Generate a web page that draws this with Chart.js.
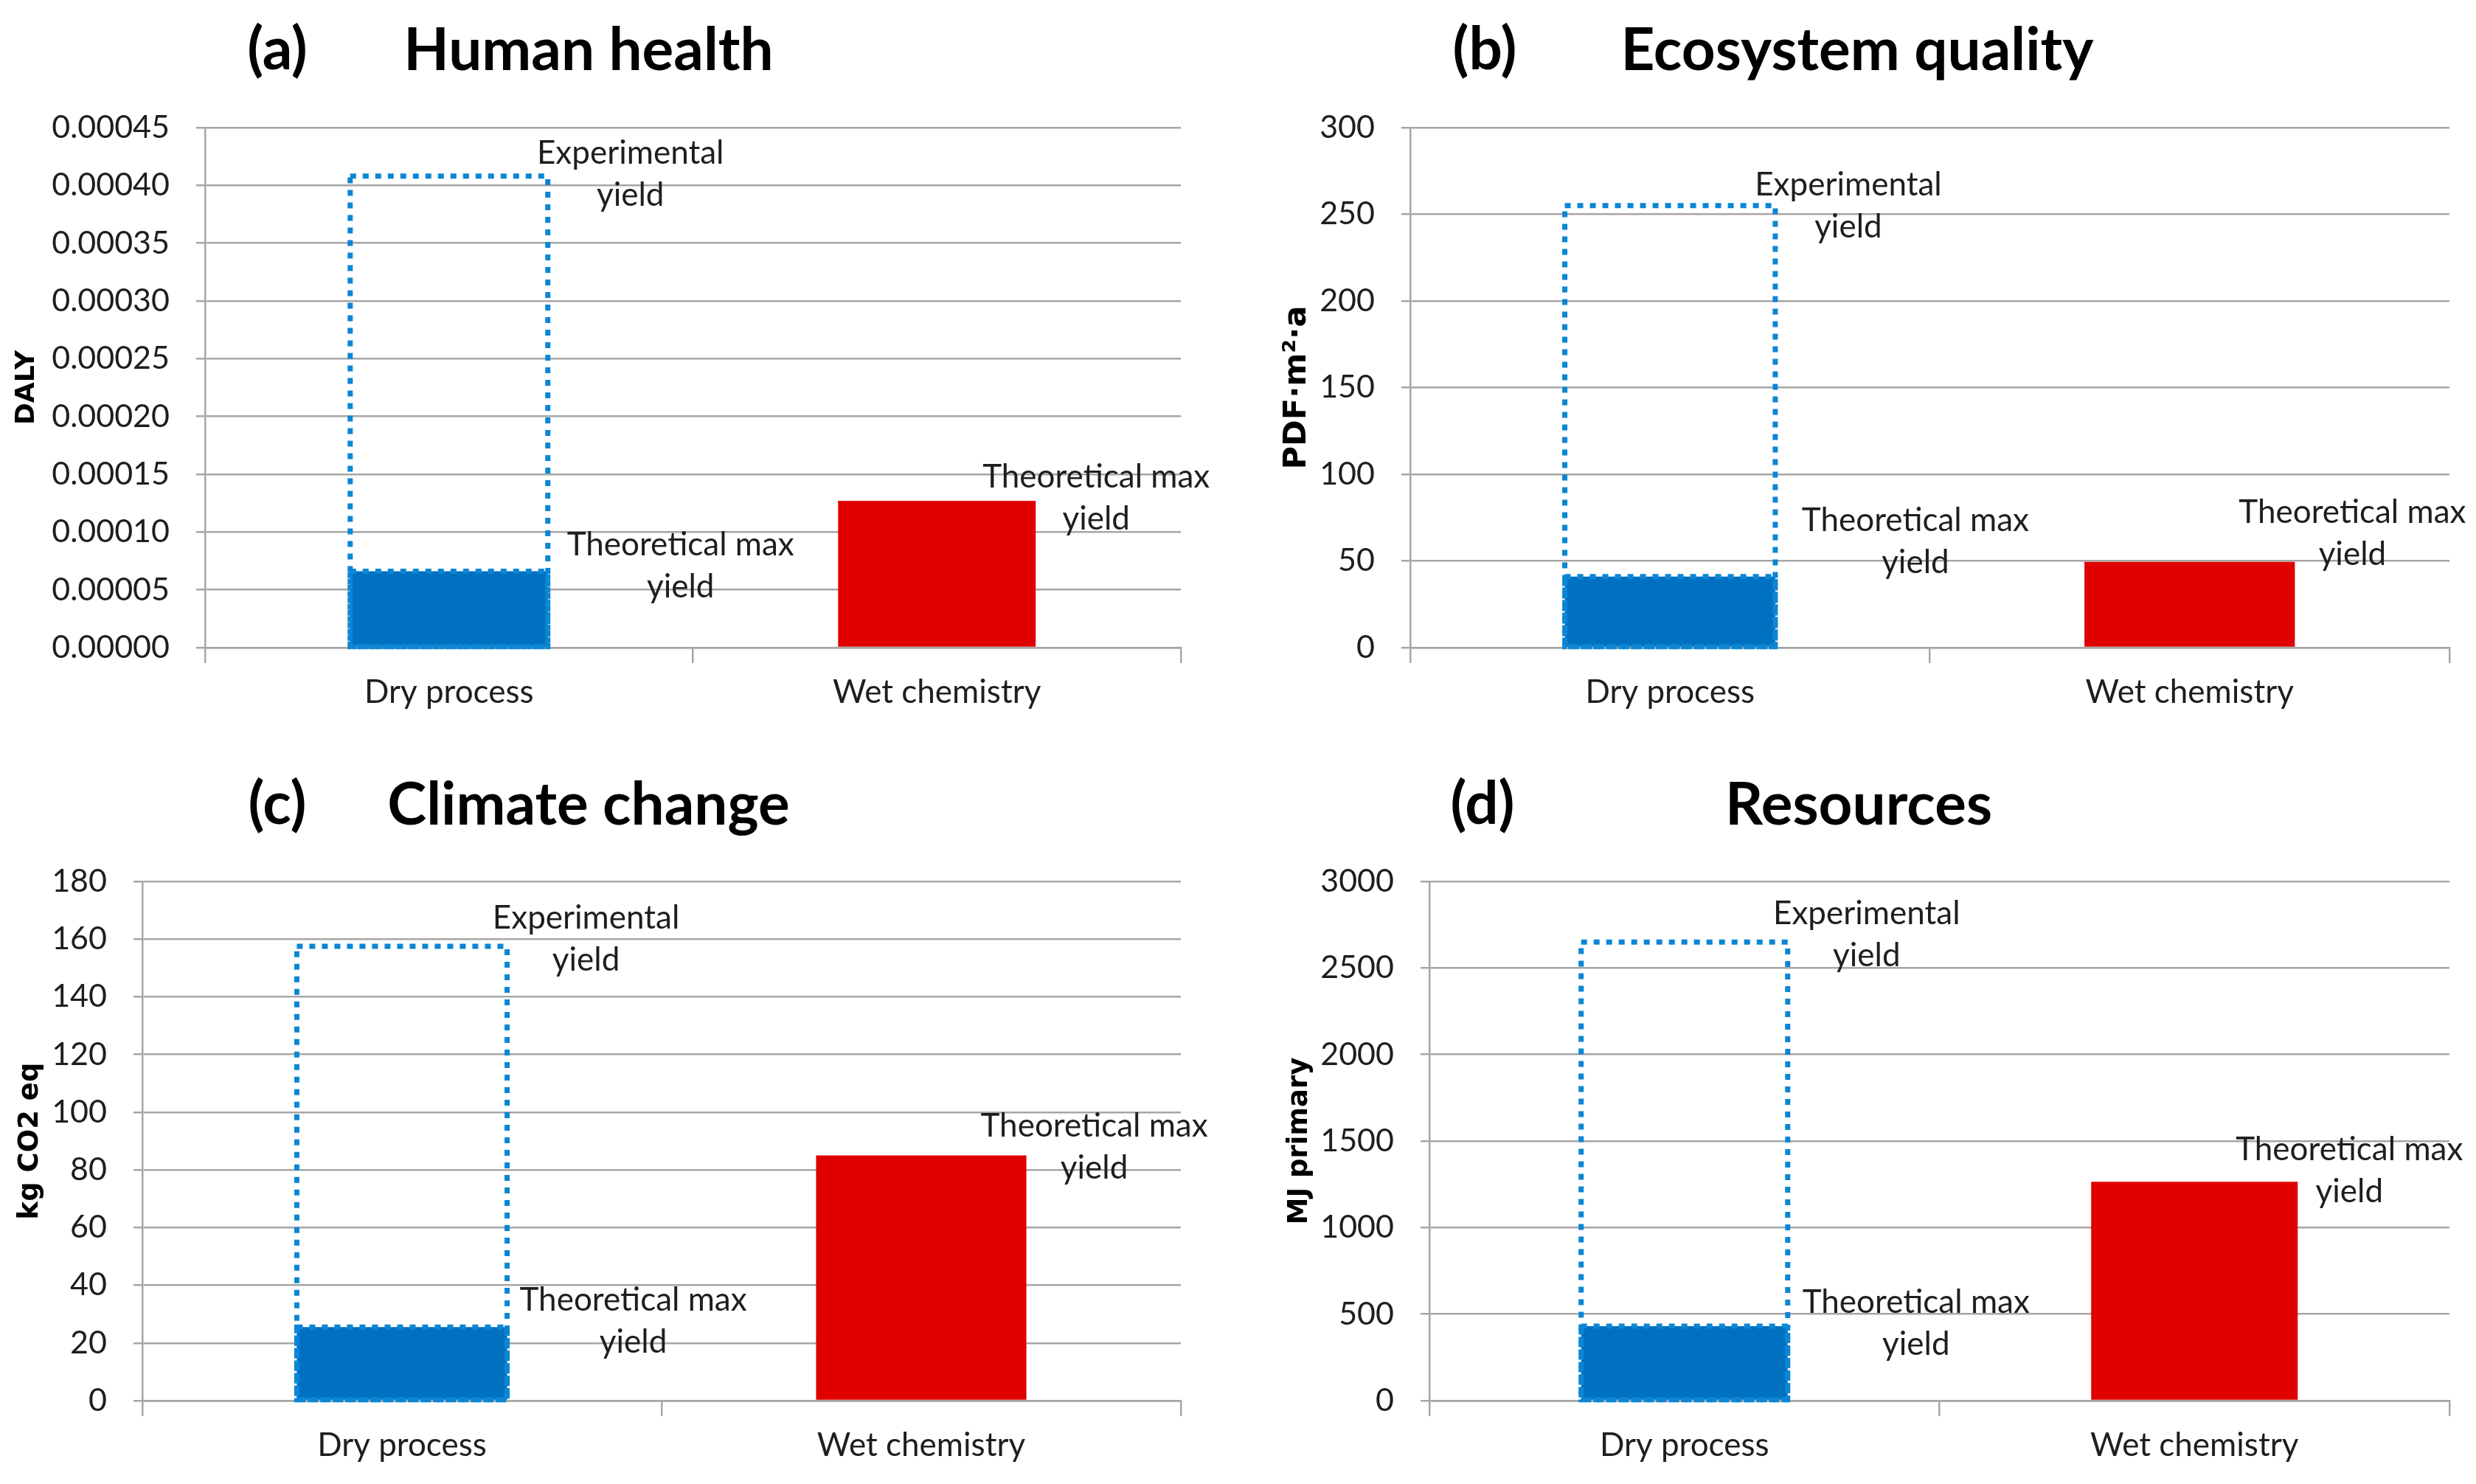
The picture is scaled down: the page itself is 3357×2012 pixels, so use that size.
<!DOCTYPE html>
<html>
<head>
<meta charset="utf-8">
<script src="https://cdn.jsdelivr.net/npm/chart.js@4.4.0/dist/chart.umd.min.js"></script>
<style>
  html, body { margin: 0; padding: 0; background: #fff; }
  body { width: 3357px; height: 2012px; position: relative; overflow: hidden; }
  .panel { position: absolute; }
  .head { position: absolute; font-family: Lato, sans-serif; font-weight: bold; font-size: 80px;
          line-height: 1; color: #000; transform: translate(-50%, -50%); white-space: nowrap; }
</style>
</head>
<body>
<div class="head" style="left:376px; top:63px">(a)</div>
<div class="head" style="left:798px; top:64px">Human health</div>
<div class="head" style="left:2013px; top:63px">(b)</div>
<div class="head" style="left:2518px; top:64px">Ecosystem quality</div>
<div class="head" style="left:376px; top:1086px">(c)</div>
<div class="head" style="left:798px; top:1087px">Climate change</div>
<div class="head" style="left:2010px; top:1086px">(d)</div>
<div class="head" style="left:2520px; top:1087px">Resources</div>

<canvas id="health" class="panel"></canvas>
<canvas id="eco" class="panel"></canvas>
<canvas id="climate" class="panel"></canvas>
<canvas id="resources" class="panel"></canvas>

<script>
// Data
const categories = ["Dry process", "Wet chemistry"];

const healthExperimental = [0.000408, null];
const healthTheoretical = [0.000066, 0.000127];
const ecoExperimental = [255, null];
const ecoTheoretical = [41, 49.5];
const climateExperimental = [157.5, null];
const climateTheoretical = [25.5, 85];
const resourcesExperimental = [2650, null];
const resourcesTheoretical = [430, 1265];

// y axes: max, step, decimals, unit
const yMax = [0.00045, 300, 180, 3000];
const yStep = [0.00005, 50, 20, 500];
const yDecimals = [5, 0, 0, 0];
const yUnits = ["DALY", "PDF·m²·a", "kg CO2 eq", "MJ primary"];

const expLines = ["Experimental", "yield"];
const theoLines = ["Theoretical max", "yield"];

const gridColor = "#a6a6a6";
const textColor = "#1e1e1e";

// draws the dotted outlines and the text next to the bars
const barExtras = {
    id: "barExtras",
    afterDatasetsDraw(chart, args, opts) {
        const ctx = chart.ctx;
        ctx.save();
        chart.data.datasets.forEach((ds, di) => {
            const meta = chart.getDatasetMeta(di);
            (ds.dotted || []).forEach(i => {
                const bar = meta.data[i];
                if (!bar) return;
                const p = bar.getProps(["x", "y", "base", "width"], true);
                ctx.strokeStyle = "#0b86d4";
                ctx.lineWidth = 7;
                ctx.setLineDash([8, 9]);
                ctx.strokeRect(p.x - p.width / 2, p.y, p.width, p.base - p.y);
            });
        });
        ctx.setLineDash([]);
        ctx.font = "44px Lato";
        ctx.fillStyle = textColor;
        ctx.textAlign = "center";
        ctx.textBaseline = "middle";
        opts.labels.forEach(l => {
            const bar = chart.getDatasetMeta(l.ds).data[l.i];
            const p = bar.getProps(["x", "y", "width"], true);
            const cx = p.x + p.width / 2 + l.dx;
            l.lines.forEach((t, k) => ctx.fillText(t, cx, p.y + l.dy + k * 57));
        });
        ctx.restore();
    }
};

// canvas placement and label offsets (pixels)
const panels = [
    { id: "health", exp: healthExperimental, theo: healthTheoretical,
      left: 0, top: 130, w: 1680, h: 870, yWidth: 278, padTop: 43, padRight: 79, padBottom: 12, xHeight: 110,
      unitSize: 36, unitPad: 15,
      offs: [[112, -31], [180, -36], [82, -32]] },
    { id: "eco", exp: ecoExperimental, theo: ecoTheoretical,
      left: 1680, top: 130, w: 1677, h: 870, yWidth: 232, padTop: 43, padRight: 36, padBottom: 12, xHeight: 110,
      unitSize: 43, unitPad: 53,
      offs: [[99, -28], [190, -76], [78, -67]] },
    { id: "climate", exp: climateExperimental, theo: climateTheoretical,
      left: 0, top: 1150, w: 1680, h: 862, yWidth: 193, padTop: 45, padRight: 79, padBottom: 8, xHeight: 105,
      unitSize: 37, unitPad: 19,
      offs: [[107, -38], [171, -36], [92, -40]] },
    { id: "resources", exp: resourcesExperimental, theo: resourcesTheoretical,
      left: 1680, top: 1150, w: 1677, h: 862, yWidth: 258, padTop: 45, padRight: 36, padBottom: 8, xHeight: 105,
      unitSize: 37, unitPad: 60,
      offs: [[107, -38], [174, -32], [70, -43]] }
];

panels.forEach((p, n) => {
    const canvas = document.getElementById(p.id);
    canvas.width = p.w;
    canvas.height = p.h;
    canvas.style.left = p.left + "px";
    canvas.style.top = p.top + "px";

    new Chart(canvas, {
        type: "bar",
        data: {
            labels: categories,
            datasets: [{
                label: "Experimental yield",
                data: p.exp,
                backgroundColor: "rgba(0,0,0,0)",
                borderWidth: 0,
                grouped: false,
                barPercentage: 0.405,
                categoryPercentage: 1,
                dotted: [0]
            }, {
                label: "Theoretical max yield",
                data: p.theo,
                backgroundColor: ["#0070c0", "#e00000"],
                borderWidth: 0,
                grouped: false,
                barPercentage: 0.405,
                categoryPercentage: 1,
                dotted: [0]
            }]
        },
        options: {
            responsive: false,
            animation: false,
            devicePixelRatio: 1,
            events: [],
            layout: {
                autoPadding: false,
                padding: { left: 0, top: p.padTop, right: p.padRight, bottom: p.padBottom }
            },
            plugins: {
                legend: { display: false },
                tooltip: { enabled: false },
                barExtras: {
                    labels: [
                        { ds: 0, i: 0, dx: p.offs[0][0], dy: p.offs[0][1], lines: expLines },
                        { ds: 1, i: 0, dx: p.offs[1][0], dy: p.offs[1][1], lines: theoLines },
                        { ds: 1, i: 1, dx: p.offs[2][0], dy: p.offs[2][1], lines: theoLines }
                    ]
                }
            },
            scales: {
                x: {
                    offset: true,
                    grid: { offset: true, drawOnChartArea: false, drawTicks: true, tickLength: 21,
                            color: gridColor, lineWidth: 2.5 },
                    border: { color: gridColor, width: 2.5 },
                    ticks: { font: { family: "Lato", size: 44 }, color: textColor, padding: 13 },
                    afterFit: s => {
                        s.height = p.xHeight;
                        s.paddingLeft = 0;
                        s.paddingRight = 0;
                    }
                },
                y: {
                    min: 0,
                    max: yMax[n],
                    ticks: {
                        stepSize: yStep[n],
                        callback: v => Number(v).toFixed(yDecimals[n]),
                        font: { family: "Lato", size: 43 },
                        color: textColor,
                        padding: 36
                    },
                    grid: { color: gridColor, lineWidth: 2.5, tickLength: 12 },
                    border: { color: gridColor, width: 2.5 },
                    title: {
                        display: true,
                        text: yUnits[n],
                        color: "#000",
                        font: { family: "DejaVu Sans", weight: "bold", size: p.unitSize },
                        padding: { top: p.unitPad, bottom: 0 }
                    },
                    afterFit: s => {
                        s.width = p.yWidth;
                        s.paddingTop = 0;
                        s.paddingBottom = 0;
                    }
                }
            }
        },
        plugins: [barExtras]
    });
});
</script>
</body>
</html>
